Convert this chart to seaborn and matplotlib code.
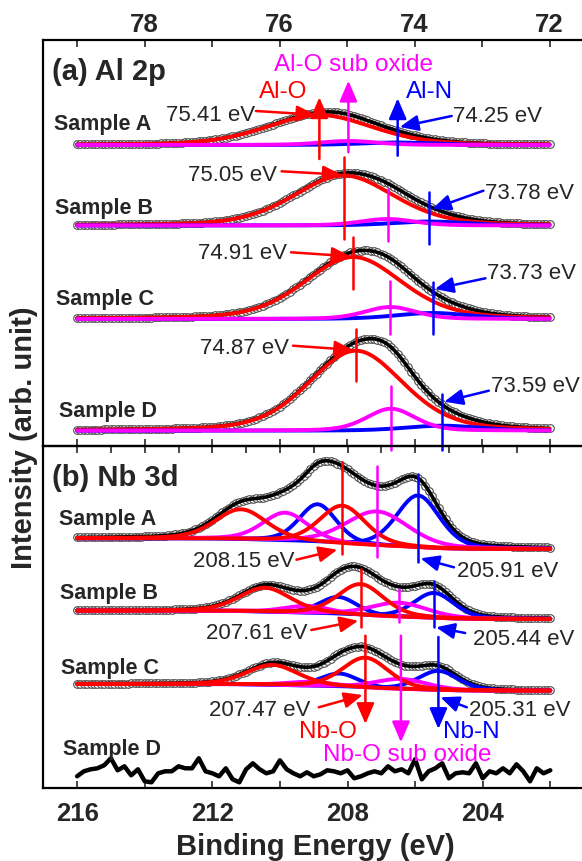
import numpy as np
import matplotlib
matplotlib.use("Agg")
import matplotlib.pyplot as plt
from matplotlib.ticker import MultipleLocator
import seaborn as sns

# ---------------- Al 2p fit components (centre eV, height, FWHM eV) ----------------
al_samples = ["Sample A", "Sample B", "Sample C", "Sample D"]
al_o_pos = [75.41, 75.05, 74.91, 74.87]
al_o_height = [30, 50, 62, 80]
al_o_fwhm = [1.85, 1.75, 1.7, 1.65]
al_sub_pos = [74.98, 74.40, 74.36, 74.35]
al_sub_height = [4, 6.5, 12, 22]
al_sub_fwhm = [1.0, 0.95, 0.9, 0.85]
al_n_pos = [74.25, 73.78, 73.73, 73.59]
al_n_height = [2.5, 4, 6, 5]
al_n_fwhm = [1.3, 1.3, 1.3, 1.3]

# ---------------- Nb 3d fit components (3d5/2 and 3d3/2) ----------------
nb_samples = ["Sample A", "Sample B", "Sample C", "Sample D"]
nb_o_pos = [208.15, 207.61, 207.47]
nb_o_pos2 = [211.15, 210.44, 210.22]
nb_o_h = [38, 31, 30]
nb_o_h2 = [30, 24, 20]
nb_o_w = [1.6, 1.6, 1.6]
nb_o_w2 = [1.8, 1.8, 1.8]
nb_sub_pos = [207.13, 206.49, 206.42]
nb_sub_pos2 = [209.84, 209.20, 209.10]
nb_sub_h = [34, 14, 10]
nb_sub_h2 = [28, 7, 4]
nb_sub_w = [2.2, 2.0, 1.8]
nb_sub_w2 = [1.6, 1.6, 1.6]
nb_n_pos = [205.91, 205.44, 205.31]
nb_n_pos2 = [208.88, 208.27, 208.24]
nb_n_h = [52, 25, 19]
nb_n_h2 = [38, 17, 13]
nb_n_w = [1.5, 1.4, 1.4]
nb_n_w2 = [1.3, 1.3, 1.3]
# background level at high / low binding energy side
nb_bg_high = [250, 177.6, 104.3]
nb_bg_low = [239.3, 169.3, 97.6]

# Sample D Nb 3d: only noise (216 -> 202 eV, 0.2 eV steps)
nb_d_noise = [12, 17, 19, 20, 23, 30, 18, 22, 13, 19, 7, 6, 15, 17, 17, 22, 20, 20,
              30, 17, 15, 12, 20, 9, 6, 19, 25, 19, 15, 17, 28, 19, 15, 12, 16, 12,
              14, 18, 17, 15, 18, 10, 12, 15, 17, 15, 22, 17, 19, 15, 29, 9, 17, 20,
              25, 10, 15, 16, 15, 25, 10, 17, 15, 20, 15, 24, 17, 7, 20, 15, 18]

# vertical stacking of the spectra
al_offset = [301, 220.5, 127, 15.3]

RED, MAG, BLUE = "#ff0000", "#ff00ff", "#0000ff"


def pv(e, c, h, w, eta=0.3):
    d = (e - c) / w
    return h * ((1 - eta) * np.exp(-4 * np.log(2) * d ** 2) + eta / (1 + 4 * d ** 2))


sns.set_style("white")
plt.rcParams["font.family"] = ["Liberation Sans", "DejaVu Sans"]

fig = plt.figure(figsize=(5.82, 8.62), dpi=100)
W, H = 582, 862
ax1 = fig.add_axes([43.3 / W, 1 - 447 / H, 1 - 43.3 / W, 406.3 / H])
ax2 = fig.add_axes([43.3 / W, 1 - 789.3 / H, 1 - 43.3 / W, 342.3 / H])


def line(ax, x, y, color, lw, z):
    sns.lineplot(x=x, y=y, ax=ax, color=color, linewidth=lw, sort=False,
                 estimator=None, legend=False, zorder=z)


def dots(ax, x, y):
    sns.scatterplot(x=x, y=y, ax=ax, s=30, color="white", edgecolor="0.3",
                    linewidth=0.8, legend=False, zorder=1)


def arrow(ax, x0, y0, x1, y1, color, lw=1.8, ms=16):
    ax.annotate("", xy=(x1, y1), xytext=(x0, y0), annotation_clip=False,
                arrowprops=dict(arrowstyle="-|>,head_length=0.7,head_width=0.3",
                                color=color, lw=lw, shrinkA=0, shrinkB=0,
                                mutation_scale=ms), zorder=8)


# ---------------- panel (a) ----------------
ea = np.round(np.arange(79.0, 71.99, -0.05), 3)
for i in range(4):
    b = al_offset[i]
    p_o = pv(ea, al_o_pos[i], al_o_height[i], al_o_fwhm[i])
    p_s = pv(ea, al_sub_pos[i], al_sub_height[i], al_sub_fwhm[i])
    p_n = pv(ea, al_n_pos[i], al_n_height[i], al_n_fwhm[i])
    env = b + p_o + p_s + p_n
    dots(ax1, ea, env)
    line(ax1, ea, env, "black", 2.6, 2)
    line(ax1, ea, b + p_o, RED, 2.8, 3)
    line(ax1, ea, b + p_n, BLUE, 2.8, 4)
    line(ax1, ea, b + p_s, MAG, 2.8, 5)

# marker lines (top, bottom) per sample
al_o_span = [(348.7, 287), (288.7, 207), (208.7, 157), (117, 65.3)]
al_sub_span = [(365.3, 293.7), (257, 205.3), (165.3, 112), (60.3, -4)]
al_n_span = [(347.7, 290.3), (253.7, 202), (163.7, 112), (52, -4)]
for i in range(4):
    for pos, span, col in [(al_o_pos, al_o_span, RED), (al_sub_pos, al_sub_span, MAG),
                           (al_n_pos, al_n_span, BLUE)]:
        top, bot = span[i]
        if i == 0:
            arrow(ax1, pos[i], bot, pos[i], top, col, lw=1.8, ms=18)
        else:
            ax1.plot([pos[i], pos[i]], [bot, top], color=col, lw=1.8, zorder=7,
                     clip_on=False)

# labels
fs_s, fs_e, fs_sp = 15.5, 16, 17.5
ax1.text(79.37, 375.3, "(a) Al 2p", fontsize=21, weight="bold", va="center")
ax1.text(74.90, 382, "Al-O sub oxide", color=MAG, fontsize=fs_sp, ha="center", va="center")
ax1.text(75.95, 355, "Al-O", color=RED, fontsize=fs_sp, ha="center", va="center")
ax1.text(73.78, 355, "Al-N", color=BLUE, fontsize=fs_sp, ha="center", va="center")
al_lab_y = [322, 238.7, 147, 35.3]
al_lab_x = [79.34, 79.32, 79.31, 79.27]
for i in range(4):
    ax1.text(al_lab_x[i], al_lab_y[i], al_samples[i], fontsize=fs_s, weight="bold",
             va="center")

al_o_txt = [(77.68, 331.3), (77.36, 271.3), (77.21, 193.7), (77.18, 98.7)]
al_o_arr = [((76.35, 335), (75.47, 331.3)), ((75.97, 274.7), (75.08, 271.3)),
            ((75.83, 193.7), (74.95, 189.7)), ((75.80, 100.3), (74.91, 96))]
al_n_txt = [(73.43, 330.3), (72.95, 253.7), (72.92, 173.7), (72.87, 60.3)]
al_n_arr = [((73.45, 330), (74.22, 319)), ((72.98, 255.3), (73.74, 237)),
            ((72.95, 167.7), (73.70, 157)), ((72.90, 55.3), (73.56, 44.3))]
for i in range(4):
    ax1.text(*al_o_txt[i], f"{al_o_pos[i]:.2f} eV", fontsize=fs_e, va="center")
    ax1.text(*al_n_txt[i], f"{al_n_pos[i]:.2f} eV", fontsize=fs_e, va="center")
    (x0, y0), (x1, y1) = al_o_arr[i]
    arrow(ax1, x0, y0, x1, y1, RED)
    (x0, y0), (x1, y1) = al_n_arr[i]
    arrow(ax1, x0, y0, x1, y1, BLUE)

# ---------------- panel (b) ----------------
eb = np.round(np.arange(216.0, 201.99, -0.1), 3)
for i in range(3):
    comps = [
        (pv(eb, nb_n_pos[i], nb_n_h[i], nb_n_w[i]), BLUE, 3),
        (pv(eb, nb_n_pos2[i], nb_n_h2[i], nb_n_w2[i]), BLUE, 3),
        (pv(eb, nb_sub_pos[i], nb_sub_h[i], nb_sub_w[i]), MAG, 4),
        (pv(eb, nb_sub_pos2[i], nb_sub_h2[i], nb_sub_w2[i]), MAG, 4),
        (pv(eb, nb_o_pos[i], nb_o_h[i], nb_o_w[i]), RED, 5),
        (pv(eb, nb_o_pos2[i], nb_o_h2[i], nb_o_w2[i]), RED, 5),
    ]
    total = sum(c[0] for c in comps)
    cum = np.cumsum(total[::-1])[::-1]
    bg = nb_bg_low[i] + (nb_bg_high[i] - nb_bg_low[i]) * cum / cum[0]
    env = bg + total
    dots(ax2, eb, env)
    line(ax2, eb, env, "black", 2.6, 2)
    for y, col, z in comps:
        line(ax2, eb, bg + y, col, 2.8, z)

en = np.linspace(216.0, 202.0, len(nb_d_noise))
line(ax2, en, nb_d_noise, "black", 3.2, 2)

nb_o_span = [(326.6, 234.3), (219.3, 161), (152.6, 64.3)]
nb_sub_span = [(322, 231), (199.3, 166), (152.6, 46)]
nb_n_span = [(314.3, 226), (207.6, 161), (151.3, 59.3)]
nb_sub_line = [207.13, 206.49, 206.42]
for i in range(3):
    for pos, span, col in [(nb_o_pos, nb_o_span, RED), (nb_sub_line, nb_sub_span, MAG),
                           (nb_n_pos, nb_n_span, BLUE)]:
        top, bot = span[i]
        if i == 2:
            arrow(ax2, pos[i], top, pos[i], bot, col, lw=1.8, ms=18)
        else:
            ax2.plot([pos[i], pos[i]], [bot, top], color=col, lw=1.8, zorder=7)

ax2.text(216.74, 311, "(b) Nb 3d", fontsize=21, weight="bold", va="center")
nb_lab_y = [269.3, 196, 121, 39.3]
nb_lab_x = [216.54, 216.51, 216.48, 216.42]
for i in range(4):
    ax2.text(nb_lab_x[i], nb_lab_y[i], nb_samples[i], fontsize=fs_s, weight="bold",
             va="center")
ax2.text(208.58, 57.6, "Nb-O", color=RED, fontsize=fs_sp, ha="center", va="center")
ax2.text(206.22, 34.3, "Nb-O sub oxide", color=MAG, fontsize=fs_sp, ha="center",
         va="center")
ax2.text(204.33, 57.6, "Nb-N", color=BLUE, fontsize=fs_sp, ha="center", va="center")

nb_o_txt = [(212.58, 227.6), (212.20, 156), (212.09, 78.6)]
nb_o_arr = [((209.51, 228.6), (208.30, 238.6)), ((209.07, 158.3), (207.68, 167.6)),
            ((208.85, 81), (207.55, 93.3))]
nb_n_txt = [(204.76, 217.6), (204.30, 149.3), (204.41, 78.6)]
nb_n_arr = [((204.85, 221), (205.84, 230)), ((204.52, 155.3), (205.38, 161)),
            ((204.47, 81), (205.25, 91))]
for i in range(3):
    ax2.text(*nb_o_txt[i], f"{nb_o_pos[i]:.2f} eV", fontsize=fs_e, va="center")
    ax2.text(*nb_n_txt[i], f"{nb_n_pos[i]:.2f} eV", fontsize=fs_e, va="center")
    (x0, y0), (x1, y1) = nb_o_arr[i]
    arrow(ax2, x0, y0, x1, y1, RED)
    (x0, y0), (x1, y1) = nb_n_arr[i]
    arrow(ax2, x0, y0, x1, y1, BLUE)

# ---------------- axes styling ----------------
ax1.set_xlim(79.5, 79.5 - 538.7 / 67.5)
ax1.set_ylim(0, 406.3)
ax2.set_xlim(217.0, 217.0 - 538.7 / 33.8)
ax2.set_ylim(0, 342.3)
for ax in (ax1, ax2):
    ax.set_yticks([])
    ax.set_xlabel("")
    ax.set_ylabel("")
    ax.spines["right"].set_visible(False)
    for s in ("left", "top", "bottom"):
        ax.spines[s].set_linewidth(1.6)
        ax.spines[s].set_color("black")
    ax.set_facecolor("none")

ax1.xaxis.set_major_locator(MultipleLocator(2))
ax1.xaxis.set_minor_locator(MultipleLocator(1))
ax1.tick_params(which="both", direction="in", top=True, bottom=True, labeltop=True,
                labelbottom=False, length=5, width=1.2, pad=3)
ax1.tick_params(axis="x", labelsize=18.5)
for t in ax1.get_xticklabels():
    t.set_fontweight("bold")

ax2.xaxis.set_major_locator(MultipleLocator(4))
ax2.xaxis.set_minor_locator(MultipleLocator(2))
ax2.tick_params(which="both", direction="in", top=False, bottom=True, length=5,
                width=1.2, pad=9)
ax2.tick_params(axis="x", labelsize=18.5)
for t in ax2.get_xticklabels():
    t.set_fontweight("bold")
sec = ax2.secondary_xaxis("top")
sec.xaxis.set_major_locator(MultipleLocator(1))
sec.tick_params(direction="in", length=5, width=1.2, labeltop=False)
sec.spines["top"].set_visible(False)

fig.text(24 / W, 1 - 438 / H, "Intensity (arb. unit)", rotation=90, ha="center",
         va="center", fontsize=21, weight="bold")
fig.text(315.5 / W, 1 - 846.7 / H, "Binding Energy (eV)", ha="center", va="center",
         fontsize=21, weight="bold")

fig.savefig("out.png", dpi=100)
